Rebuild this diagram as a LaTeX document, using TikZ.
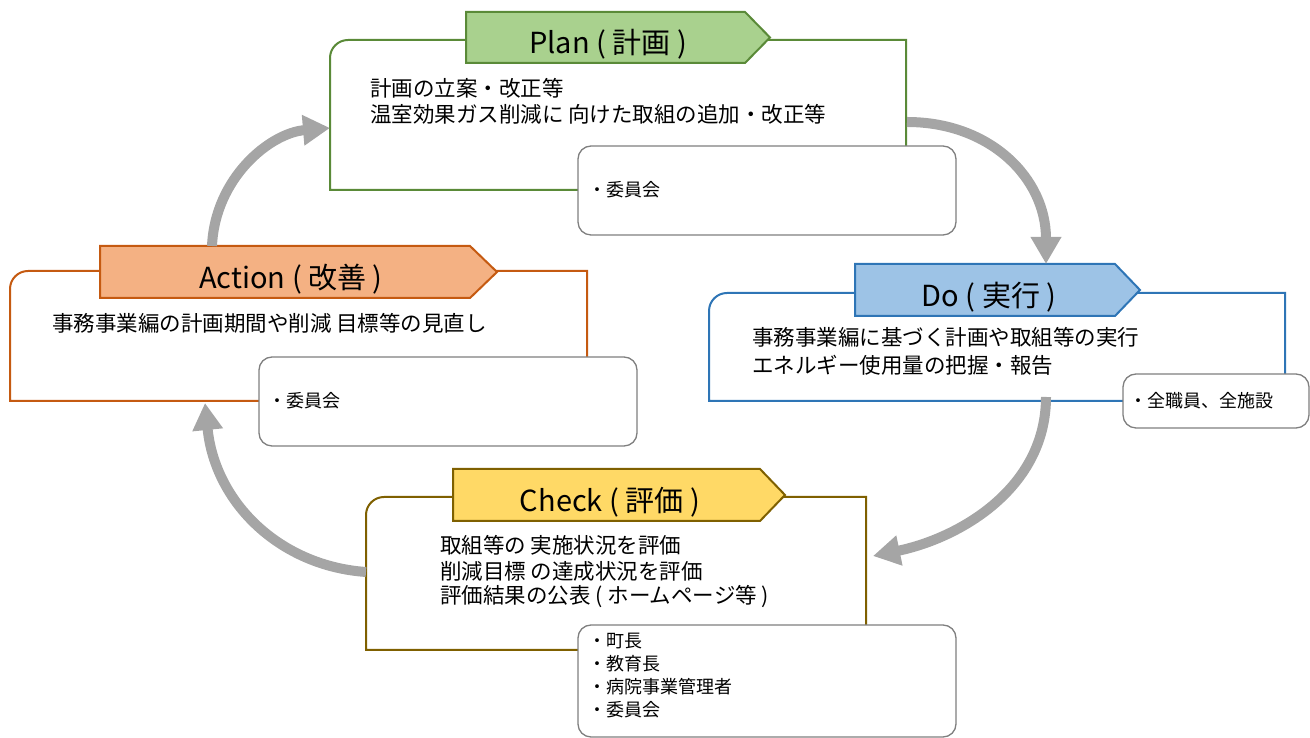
\documentclass[tikz,border=0pt]{standalone}
\usepackage{fontspec}
\setmainfont{Noto Sans CJK JP}
\usetikzlibrary{arrows.meta}
\definecolor{plfill}{HTML}{A9D18E}\definecolor{plline}{HTML}{5A8A38}
\definecolor{dofill}{HTML}{9DC3E6}\definecolor{doline}{HTML}{2E75B6}
\definecolor{acfill}{HTML}{F4B183}\definecolor{acline}{HTML}{C55A11}
\definecolor{chfill}{HTML}{FFD966}\definecolor{chline}{HTML}{7F6000}
\definecolor{subgray}{HTML}{7F7F7F}
\definecolor{arrgray}{HTML}{A5A5A5}
\begin{document}
\begin{tikzpicture}[x=1pt,y=1pt,
  frame/.style={line width=2pt},
  tabshape/.style={line width=2pt},
  subbox/.style={draw=subgray,line width=1.3pt,fill=white,rounded corners=13pt,inner sep=0pt},
  title/.style={font=\fontsize{29}{34}\selectfont,inner sep=0pt},
  body/.style={font=\fontsize{21.5}{26}\selectfont,anchor=west,inner sep=0pt},
  small/.style={font=\fontsize{18}{22}\selectfont,anchor=west,inner sep=0pt},
  cyc/.style={draw=arrgray,line width=10pt,-{Triangle[length=27pt,width=29pt]}}]
\useasboundingbox (0,0) rectangle (1310,738);

% ---------------- Plan ----------------
\draw[frame,draw=plline] (330,548) -- (330,680) arc[start angle=180,end angle=90,radius=18] -- (906,698) -- (906,548) -- cycle;
\draw[tabshape,draw=plline,fill=plfill] (466,675) -- (466,726) -- (745,726) -- (770,700.5) -- (745,675) -- cycle;
\node[title] (plantitle) at (608,694) {Plan ( 計画 )};
\node[body] (plan1) at (370,650) {計画の立案・改正等};
\node[body] (plan2) at (370,624) {温室効果ガス削減に 向けた取組の追加・改正等};
\node[subbox,minimum width=378pt,minimum height=89pt] (plansub) at (767,547.5) {};
\node[small] (plansubt) at (588,548) {・委員会};

% ---------------- Do ----------------
\draw[frame,draw=doline] (709,337) -- (709,427) arc[start angle=180,end angle=90,radius=18] -- (1285,445) -- (1285,337) -- cycle;
\draw[tabshape,draw=doline,fill=dofill] (855,422) -- (855,474) -- (1115,474) -- (1140,448) -- (1115,422) -- cycle;
\node[title] (dotitle) at (989,441) {Do ( 実行 )};
\node[body] (do1) at (752,401) {事務事業編に基づく計画や取組等の実行};
\node[body] (do2) at (752,373) {エネルギー使用量の把握・報告};
\node[subbox,minimum width=186pt,minimum height=54pt] (dosub) at (1216,337) {};
\node[small] (dosubt) at (1129,337) {・全職員、全施設};

% ---------------- Action ----------------
\draw[frame,draw=acline] (10,337) -- (10,449) arc[start angle=180,end angle=90,radius=18] -- (587,467) -- (587,337) -- cycle;
\draw[tabshape,draw=acline,fill=acfill] (100,440) -- (100,492) -- (470,492) -- (497,466) -- (470,440) -- cycle;
\node[title] (actitle) at (291,459) {Action ( 改善 )};
\node[body] (ac1) at (52,415) {事務事業編の計画期間や削減 目標等の見直し};
\node[subbox,minimum width=378pt,minimum height=89pt] (acsub) at (448,336.5) {};
\node[small] (acsubt) at (268,337) {・委員会};

% ---------------- Check ----------------
\draw[frame,draw=chline] (366,88) -- (366,223) arc[start angle=180,end angle=90,radius=18] -- (866,241) -- (866,88) -- cycle;
\draw[tabshape,draw=chline,fill=chfill] (453,217) -- (453,269) -- (760,269) -- (785,243) -- (760,217) -- cycle;
\node[title] (chtitle) at (610,236) {Check ( 評価 )};
\node[body] (ch1) at (440,193) {取組等の 実施状況を評価};
\node[body] (ch2) at (440,167) {削減目標 の達成状況を評価};
\node[body] (ch3) at (440,141) {評価結果の公表 ( ホームページ等 )};
\node[subbox,minimum width=378pt,minimum height=112pt] (chsub) at (767,57) {};
\node[small] (chs1) at (588,97) {・町長};
\node[small] (chs2) at (588,74) {・教育長};
\node[small] (chs3) at (588,51) {・病院事業管理者};
\node[small] (chs4) at (588,28) {・委員会};

% ---------------- cycle arrows ----------------
\coordinate (a1s) at (907,616);
\coordinate (a1e) at (1046,474);
\coordinate (a2s) at (1046,341);
\coordinate (a2e) at (873,182);
\coordinate (a3s) at (366,166);
\coordinate (a3e) at (205,335);
\coordinate (a4s) at (212,492);
\coordinate (a4e) at (330,610);
\draw[cyc] (a1s) .. controls (990,616) and (1046,560) .. (a1e);
\draw[cyc] (a2s) .. controls (1046,250) and (960,200) .. (a2e);
\draw[cyc] (a3s) .. controls (280,172) and (215,235) .. (a3e);
\draw[cyc] (a4s) .. controls (215,560) and (270,605) .. (a4e);
\end{tikzpicture}
\end{document}
